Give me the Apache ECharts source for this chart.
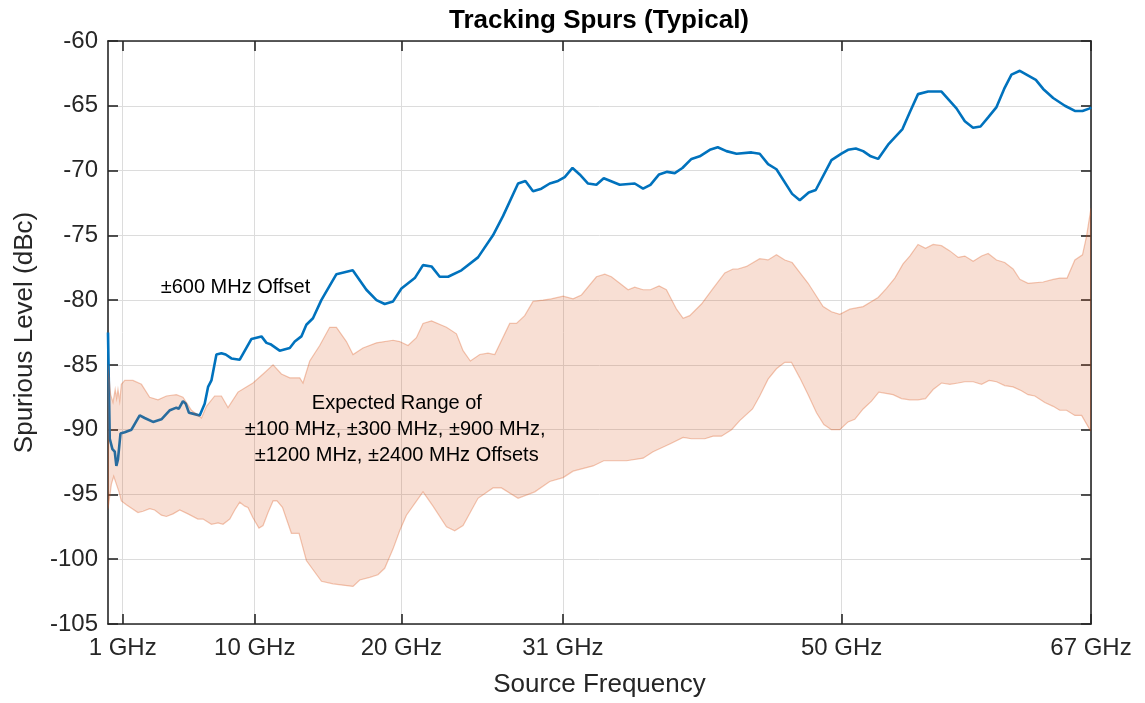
<!DOCTYPE html>
<html>
<head>
<meta charset="utf-8">
<script src="https://cdn.jsdelivr.net/npm/echarts@6/dist/echarts.min.js"></script>
<style>
  html, body { margin: 0; padding: 0; background: #ffffff; }
  #chart { width: 1145px; height: 703px; }
</style>
</head>
<body>
<div id="chart"></div>
<script>
// Tick positions on the frequency axis (GHz)
const xTicks = [1, 10, 20, 31, 50, 67];

// ±600 MHz offset spur level
const freqBlue = [0, 0.12, 0.30, 0.46, 0.57, 0.68, 0.85, 1.14, 1.60, 2.16, 2.50, 3.07, 3.64, 4.22, 4.66, 4.82, 5.11, 5.30, 5.52, 5.91, 6.25, 6.59, 6.82, 7.05, 7.39, 7.73, 8.02, 8.41, 8.98, 9.78, 10.46, 10.80, 11.07, 11.70, 12.39, 12.73, 13.18, 13.52, 13.97, 14.54, 15.57, 16.68, 17.61, 18.30, 18.86, 19.43, 20.00, 20.91, 21.47, 22.05, 22.61, 23.18, 24.09, 25.22, 26.24, 26.93, 27.95, 28.45, 28.97, 29.54, 30.11, 30.67, 31.13, 31.66, 32.15, 32.72, 33.29, 33.79, 34.88, 35.90, 36.47, 36.97, 37.56, 38.11, 38.63, 39.15, 39.77, 40.33, 41.02, 41.56, 42.15, 42.84, 43.86, 44.42, 44.99, 45.56, 46.63, 47.15, 47.76, 48.24, 49.31, 49.99, 50.44, 50.97, 51.47, 51.99, 52.49, 53.17, 54.15, 54.65, 55.21, 55.90, 56.81, 57.83, 58.40, 58.96, 59.47, 59.99, 60.56, 61.08, 61.58, 62.15, 63.24, 63.74, 64.42, 65.22, 65.90, 66.42, 66.92, 67];
const levelBlue = [-82.5, -90.7, -91.5, -91.7, -92.8, -92.3, -90.3, -90.2, -90.0, -88.9, -89.1, -89.4, -89.2, -88.5, -88.3, -88.4, -87.8, -88.0, -88.7, -88.8, -88.9, -88.0, -86.7, -86.2, -84.2, -84.1, -84.2, -84.5, -84.6, -83.0, -82.8, -83.3, -83.4, -83.9, -83.7, -83.2, -82.8, -81.9, -81.4, -80.0, -78.0, -77.7, -79.2, -80.0, -80.3, -80.1, -79.1, -78.3, -77.3, -77.4, -78.2, -78.2, -77.7, -76.7, -75.0, -73.5, -71.0, -70.8, -71.6, -71.4, -71.0, -70.8, -70.5, -69.8, -70.3, -71.0, -71.1, -70.6, -71.1, -71.0, -71.4, -71.1, -70.3, -70.1, -70.2, -69.8, -69.1, -68.9, -68.4, -68.2, -68.5, -68.7, -68.6, -68.7, -69.5, -69.9, -71.8, -72.3, -71.7, -71.5, -69.2, -68.7, -68.4, -68.3, -68.5, -68.9, -69.1, -68.0, -66.8, -65.5, -64.1, -63.9, -63.9, -65.2, -66.2, -66.7, -66.6, -65.9, -65.1, -63.7, -62.6, -62.3, -63.0, -63.7, -64.4, -65.0, -65.4, -65.4, -65.2, -65.1];

// Expected range of the other offsets: upper envelope
const freqUpper = [0, 0.18, 0.34, 0.49, 0.59, 0.68, 0.80, 0.91, 1.14, 1.70, 2.28, 2.84, 3.41, 3.98, 4.66, 5.11, 5.69, 6.37, 6.71, 7.27, 7.73, 8.18, 8.86, 9.43, 9.88, 10.57, 11.25, 11.82, 12.39, 13.07, 13.29, 13.75, 14.43, 15.11, 15.57, 16.25, 16.70, 17.38, 18.30, 19.43, 19.88, 20.45, 21.02, 21.47, 22.05, 23.07, 23.75, 24.20, 24.70, 25.34, 25.90, 26.36, 27.38, 27.84, 28.40, 28.97, 29.65, 30.22, 31.02, 31.70, 32.27, 33.29, 33.86, 34.31, 34.88, 35.45, 35.90, 36.47, 36.97, 37.56, 38.06, 38.75, 39.20, 39.65, 40.45, 41.24, 42.04, 42.60, 42.94, 43.52, 44.42, 44.99, 45.56, 46.13, 46.63, 47.72, 48.74, 49.31, 49.88, 50.56, 51.47, 52.49, 53.06, 53.63, 54.19, 54.65, 55.21, 55.72, 56.24, 56.81, 57.38, 57.95, 58.40, 58.97, 59.54, 59.99, 60.56, 61.12, 61.69, 62.15, 62.71, 63.74, 64.42, 64.87, 65.37, 65.90, 66.42, 66.69, 67];
const levelUpper = [-85.0, -87.3, -87.9, -86.9, -87.6, -86.9, -87.8, -86.5, -86.2, -86.2, -86.5, -87.5, -87.7, -87.4, -87.3, -87.5, -88.5, -89.1, -88.2, -87.4, -87.4, -88.3, -87.1, -86.7, -86.4, -85.7, -85.0, -85.7, -86.0, -86.0, -86.4, -84.7, -83.5, -82.1, -82.1, -83.2, -84.2, -83.7, -83.3, -83.1, -83.2, -83.5, -82.9, -81.8, -81.6, -82.1, -82.6, -83.9, -84.7, -84.2, -84.1, -84.2, -81.8, -81.8, -81.2, -80.1, -80.0, -79.9, -79.7, -79.9, -79.6, -78.2, -78.0, -78.2, -78.7, -79.2, -79.0, -79.2, -79.2, -78.9, -79.2, -80.7, -81.4, -81.2, -80.3, -79.1, -77.9, -77.6, -77.6, -77.4, -76.8, -76.9, -76.5, -76.9, -77.1, -78.7, -80.5, -80.9, -81.1, -80.7, -80.5, -79.8, -79.1, -78.3, -77.2, -76.6, -75.7, -76.0, -75.7, -75.8, -76.2, -76.7, -76.6, -77.0, -76.6, -76.4, -76.9, -77.1, -77.6, -78.4, -78.7, -78.6, -78.4, -78.3, -78.3, -76.9, -76.5, -75.1, -72.9];

// Expected range of the other offsets: lower envelope
const freqLower = [0, 0.23, 0.39, 0.57, 0.75, 0.91, 1.25, 2.04, 2.39, 2.84, 3.18, 3.64, 3.98, 4.43, 4.89, 5.45, 6.13, 6.48, 7.05, 7.50, 7.84, 8.30, 8.64, 8.98, 9.32, 9.54, 9.88, 10.29, 10.57, 10.91, 11.25, 11.52, 11.89, 12.50, 13.02, 13.52, 14.55, 15.34, 16.02, 16.70, 17.16, 17.84, 18.40, 18.86, 19.43, 19.88, 20.34, 21.47, 22.15, 23.07, 23.63, 24.20, 25.22, 26.24, 26.82, 27.95, 29.09, 30.11, 31.02, 31.70, 33.06, 33.79, 35.34, 36.47, 37.15, 38.29, 39.20, 39.77, 40.68, 41.24, 41.81, 42.50, 43.06, 43.93, 44.42, 44.99, 45.56, 46.13, 46.58, 47.15, 47.72, 48.29, 48.79, 49.31, 49.88, 50.44, 50.90, 51.47, 52.04, 52.54, 53.51, 54.08, 54.65, 55.21, 55.72, 56.24, 56.81, 57.38, 57.95, 58.40, 58.97, 59.54, 60.06, 60.56, 61.12, 61.69, 62.26, 62.71, 63.17, 63.85, 64.42, 64.87, 65.33, 65.90, 66.36, 66.92, 67];
const levelLower = [-96.1, -94.2, -93.6, -94.2, -94.8, -95.5, -95.8, -96.4, -96.3, -96.1, -96.2, -96.6, -96.7, -96.5, -96.2, -96.5, -96.9, -96.9, -97.3, -97.2, -97.3, -96.9, -96.2, -95.6, -95.9, -96.0, -96.8, -97.6, -97.4, -96.4, -95.5, -95.5, -96.0, -98.0, -98.0, -100.1, -101.7, -101.9, -102.0, -102.1, -101.6, -101.4, -101.2, -100.7, -99.2, -97.8, -96.6, -94.8, -95.9, -97.5, -97.8, -97.4, -95.3, -94.5, -94.5, -95.3, -94.8, -94.0, -93.7, -93.2, -92.8, -92.4, -92.4, -92.2, -91.7, -91.1, -90.6, -90.7, -90.7, -90.5, -90.5, -90.0, -89.3, -88.4, -87.4, -86.1, -85.3, -84.8, -84.8, -86.0, -87.3, -88.7, -89.6, -90.0, -90.0, -89.4, -89.2, -88.4, -87.8, -87.1, -87.3, -87.6, -87.7, -87.7, -87.6, -86.9, -86.4, -86.5, -86.4, -86.3, -86.3, -86.5, -86.2, -86.3, -86.6, -86.7, -87.0, -87.3, -87.4, -87.9, -88.2, -88.5, -88.5, -88.9, -88.9, -90.0, -90.1];

// Annotation text, anchored at its left end (GHz, dBc)
const noteText = ['\u00b1600 MHz Offset', 'Expected Range of', '\u00b1100 MHz, \u00b1300 MHz, \u00b1900 MHz,', '\u00b11200 MHz, \u00b12400 MHz Offsets'];
const noteFreq = [3.59, 13.89, 9.32, 10.0];
const noteLevel = [-79.0, -88.0, -90.0, -92.0];

const FONT = '"Liberation Sans", Arial, Helvetica, sans-serif';
const INK = '#262626';

const chart = echarts.init(document.getElementById('chart'), null, { renderer: 'canvas' });

const frameLine = { show: true, onZero: false, lineStyle: { color: INK, width: 1.6 } };
const innerTick = { show: true, inside: true, length: 10, lineStyle: { color: INK, width: 1.6 } };

chart.setOption({
  animation: false,
  backgroundColor: '#ffffff',
  grid: { left: 108, right: 54, top: 41, bottom: 77, containLabel: false },
  graphic: [{
    type: 'text', x: 599, y: 21, z: 10,
    style: { text: 'Tracking Spurs (Typical)', fill: '#000000', font: 'bold 26px ' + FONT, align: 'center', verticalAlign: 'middle', textAlign: 'center', textVerticalAlign: 'middle' }
  }],
  xAxis: [{
    type: 'value', position: 'bottom', min: 0, max: 67,
    axisLine: frameLine,
    axisTick: Object.assign({ customValues: xTicks }, innerTick),
    axisLabel: { customValues: xTicks, formatter: v => v + ' GHz', color: INK, fontSize: 24, fontFamily: FONT, margin: 12 },
    splitLine: { show: true, lineStyle: { color: '#dcdcdc', width: 1 } },
    name: 'Source Frequency', nameLocation: 'middle', nameGap: 48,
    nameTextStyle: { color: INK, fontSize: 26, fontFamily: FONT }
  }, {
    type: 'value', position: 'top', min: 0, max: 67,
    axisLine: frameLine,
    axisTick: Object.assign({ customValues: xTicks }, innerTick),
    axisLabel: { show: false },
    splitLine: { show: false }
  }],
  yAxis: [{
    type: 'value', position: 'left', min: -105, max: -60, interval: 5,
    axisLine: frameLine,
    axisTick: innerTick,
    axisLabel: { color: INK, fontSize: 24, fontFamily: FONT, margin: 10 },
    splitLine: { show: true, lineStyle: { color: '#dcdcdc', width: 1 } },
    name: 'Spurious Level (dBc)', nameLocation: 'middle', nameGap: 70, nameRotate: 90,
    nameTextStyle: { color: INK, fontSize: 26, fontFamily: FONT }
  }, {
    type: 'value', position: 'right', min: -105, max: -60, interval: 5,
    axisLine: frameLine,
    axisTick: innerTick,
    axisLabel: { show: false },
    splitLine: { show: false }
  }],
  series: [{
    name: '\u00b1600 MHz Offset',
    type: 'line', z: 2,
    data: freqBlue.map((f, i) => [f, levelBlue[i]]),
    showSymbol: false, symbol: 'none', smooth: false,
    lineStyle: { color: '#0072BD', width: 2.6 },
    silent: true
  }, {
    // translucent band between the upper and lower envelopes
    name: 'Expected Range',
    type: 'custom', z: 3, silent: true, clip: true,
    data: [[freqUpper[0], levelUpper[0]]],
    encode: { x: 0, y: 1 },
    renderItem: function (params, api) {
      const pts = [];
      for (let i = 0; i < freqUpper.length; i++) pts.push(api.coord([freqUpper[i], levelUpper[i]]));
      for (let i = freqLower.length - 1; i >= 0; i--) pts.push(api.coord([freqLower[i], levelLower[i]]));
      return {
        type: 'polygon',
        shape: { points: pts },
        style: { fill: 'rgba(217,83,25,0.19)', stroke: 'rgba(217,83,25,0.32)', lineWidth: 1.2 }
      };
    }
  }, {
    name: 'Notes',
    type: 'custom', z: 5, silent: true, clip: false,
    data: noteText.map((t, i) => [noteFreq[i], noteLevel[i], i]),
    encode: { x: 0, y: 1 },
    renderItem: function (params, api) {
      const p = api.coord([api.value(0), api.value(1)]);
      const idx = api.value(2);
      return {
        type: 'text', x: p[0], y: p[1],
        style: { text: noteText[idx], fill: '#000000', font: '20px ' + FONT, align: 'left', verticalAlign: 'middle', textAlign: 'left', textVerticalAlign: 'middle' }
      };
    }
  }]
});
</script>
</body>
</html>
